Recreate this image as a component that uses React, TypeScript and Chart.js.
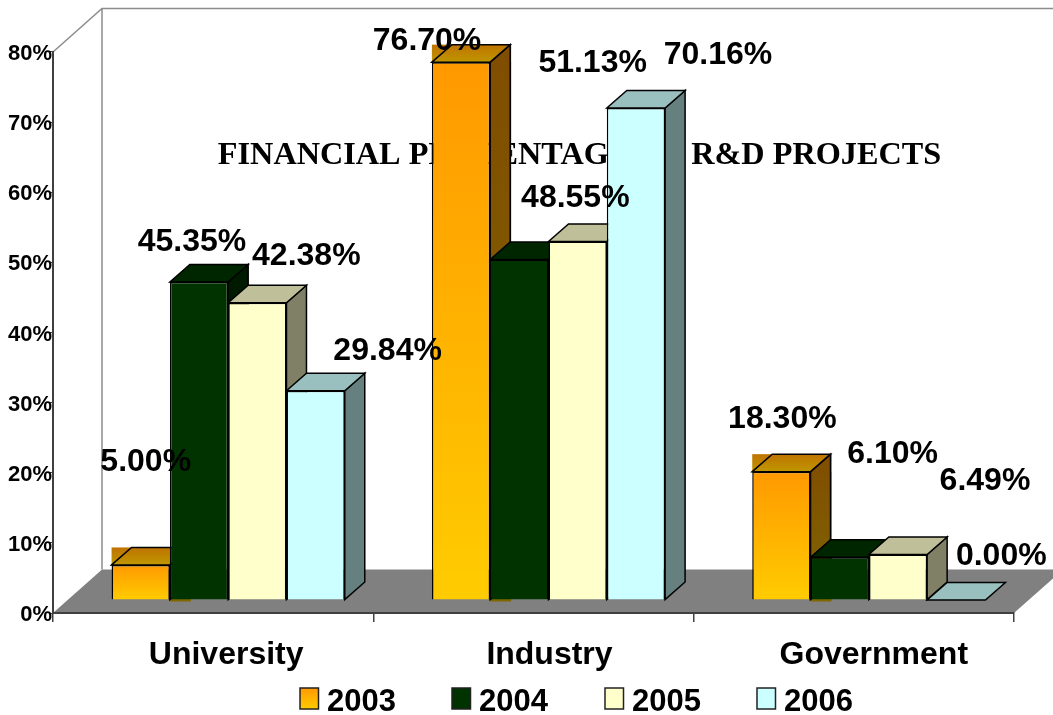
import React, { useEffect, useRef } from "react";
import { Chart, registerables } from "chart.js";

Chart.register(...registerables);

const categories = ["University", "Industry", "Government"];
const years = ["2003", "2004", "2005", "2006"];
const values2003 = [5.0, 76.7, 18.3];
const values2004 = [45.35, 48.55, 6.1];
const values2005 = [42.38, 51.13, 6.49];
const values2006 = [29.84, 70.16, 0.0];
const seriesValues = [values2003, values2004, values2005, values2006];
const titleText = "FINANCIAL PERCENTAGE OF R&D PROJECTS";

// [top colour, bottom colour] of each series' front face, as rgb triples
const seriesColors = [
  [[255, 153, 0], [255, 204, 0]],
  [[0, 51, 0], [0, 51, 0]],
  [[255, 255, 204], [255, 255, 204]],
  [[204, 255, 255], [204, 255, 255]],
];

// Layout of the imitation 3D: wall depth, bar plane shift, bar depth
const WALL_DX = 49, WALL_DY = -43.5;
const PLANE_DX = 15, PLANE_DY = -13;
const BAR_DX = 20, BAR_DY = -17.5;
const AXIS = "#404040";
const SANS = "'Liberation Sans', Arial, sans-serif";

// Hand-placed data label offsets from each bar's front-top centre
const labelOffsets = [
  [[5, -102.5], [-34, -21], [1, -52]],
  [[-7, -40], [56, -61], [53, -103.5]],
  [[49, -47], [15, -178], [87, -73]],
  [[72, -40], [82, -53], [45, -43.5]],
];
const tickLabelNudge = [-3, 0, 4];
const legendX = [300, 452, 605, 757];

const rgb = (c: number[], k = 1) => `rgb(${c.map((v) => Math.round(v * k)).join(",")})`;
const grad = (ctx: CanvasRenderingContext2D, y0: number, y1: number, s: number[][], k = 1) => {
  const g = ctx.createLinearGradient(0, y0, 0, y1);
  g.addColorStop(0, rgb(s[0], k));
  g.addColorStop(1, rgb(s[1], k));
  return g;
};
const poly = (ctx: CanvasRenderingContext2D, pts: number[][], fill: any) => {
  ctx.beginPath();
  pts.forEach((p, i) => (i ? ctx.lineTo(p[0], p[1]) : ctx.moveTo(p[0], p[1])));
  ctx.closePath();
  ctx.fillStyle = fill;
  ctx.fill();
  ctx.strokeStyle = "#000";
  ctx.lineWidth = 1.5;
  ctx.stroke();
};

const scene3d = {
  id: "scene3d",
  afterLayout(chart: any) {
    // the title sits off-centre, to the right of the plot's middle
    chart.titleBlock.left += 145;
  },
  beforeDraw(chart: any) {
    const { ctx, chartArea: a } = chart;
    ctx.save();
    ctx.fillStyle = "#808080";
    ctx.beginPath();
    ctx.moveTo(a.left, a.bottom);
    ctx.lineTo(a.left + WALL_DX, a.bottom + WALL_DY);
    ctx.lineTo(a.right + WALL_DX, a.bottom + WALL_DY);
    ctx.lineTo(a.right, a.bottom);
    ctx.closePath();
    ctx.fill();
    ctx.strokeStyle = "#8c8c8c";
    ctx.lineWidth = 1.5;
    ctx.beginPath();
    ctx.moveTo(a.left, a.top);
    ctx.lineTo(a.left + WALL_DX, a.top + WALL_DY);
    ctx.lineTo(a.right + WALL_DX, a.top + WALL_DY);
    ctx.moveTo(a.left + WALL_DX, a.top + WALL_DY);
    ctx.lineTo(a.left + WALL_DX, a.bottom + WALL_DY);
    ctx.stroke();
    ctx.restore();
    const items = chart.scales.x.getLabelItems();
    if (!chart.$nudged) {
      items.forEach((it: any, i: number) => (it.options.translation[0] += tickLabelNudge[i] || 0));
      chart.$nudged = true;
    }
  },
  beforeDatasetsDraw(chart: any) {
    const { ctx } = chart;
    ctx.save();
    seriesValues.forEach((_, si) => {
      const s = seriesColors[si];
      const isGradient = s[0][1] !== s[1][1];
      chart.getDatasetMeta(si).data.forEach((el: any) => {
        const { x, y, base, width } = el.getProps(["x", "y", "base", "width"]);
        const l = x - width / 2 + PLANE_DX;
        const r = x + width / 2 + PLANE_DX;
        const t = y + PLANE_DY;
        const b = base + PLANE_DY;
        const topFill = grad(ctx, t + BAR_DY, t + 1, s, 0.75);
        const sideFill = grad(ctx, t + BAR_DY, b, s, 0.5);
        if (isGradient) {
          // gradient faces keep their bounding-box fill in the source picture
          ctx.fillStyle = grad(ctx, t, b + 2, s, 0.5);
          ctx.fillRect(r, t, BAR_DX + 1, b + 2 - t);
          ctx.fillStyle = topFill;
          ctx.fillRect(l, t + BAR_DY, r + BAR_DX + 1 - l, 1 - BAR_DY);
        }
        if (b - t > 0.5) {
          poly(ctx, [[r, t], [r + BAR_DX, t + BAR_DY], [r + BAR_DX, b + BAR_DY], [r, b]], sideFill);
        }
        poly(ctx, [[l, t], [l + BAR_DX, t + BAR_DY], [r + BAR_DX, t + BAR_DY], [r, t]], topFill);
      });
    });
    ctx.restore();
    ctx.save();
    ctx.translate(PLANE_DX, PLANE_DY);
  },
  afterDatasetsDraw(chart: any) {
    const { ctx } = chart;
    ctx.restore();
    ctx.save();
    ctx.fillStyle = "#000";
    ctx.font = `bold 32px ${SANS}`;
    ctx.textAlign = "center";
    ctx.textBaseline = "middle";
    seriesValues.forEach((vals, si) => {
      chart.getDatasetMeta(si).data.forEach((el: any, ci: number) => {
        const { x, y } = el.getProps(["x", "y"]);
        const [ox, oy] = labelOffsets[si][ci];
        ctx.fillText(vals[ci].toFixed(2) + "%", x + PLANE_DX + ox, y + PLANE_DY + oy);
      });
    });
    // legend
    const { bottom } = chart.chartArea;
    ctx.textAlign = "left";
    ctx.font = `bold 31px ${SANS}`;
    years.forEach((yr, i) => {
      const top = bottom + 75;
      const s = seriesColors[i];
      ctx.fillStyle = grad(ctx, top, top + 21, s);
      ctx.fillRect(legendX[i], top, 18.5, 21);
      ctx.strokeStyle = "#222";
      ctx.lineWidth = 1.5;
      ctx.strokeRect(legendX[i], top, 18.5, 21);
      ctx.fillStyle = "#000";
      ctx.fillText(yr, legendX[i] + 27, top + 14);
    });
    ctx.restore();
  },
};

export default function App() {
  const ref = useRef<HTMLCanvasElement>(null);
  useEffect(() => {
    const chart = new Chart(ref.current as HTMLCanvasElement, {
      type: "bar",
      data: {
        labels: categories,
        datasets: years.map((label, si) => ({
          label,
          data: seriesValues[si],
          borderColor: "#000",
          borderWidth: 1.5,
          clip: false,
          backgroundColor: (c: any) => {
            const s = seriesColors[si];
            const ys = c.chart.scales.y;
            if (c.type !== "data" || !ys || !c.parsed) return rgb(s[0]);
            const y0 = ys.getPixelForValue(c.parsed.y);
            const y1 = ys.getPixelForValue(0);
            if (!Number.isFinite(y0) || !Number.isFinite(y1)) return rgb(s[0]);
            return grad(c.chart.ctx, y0, y1, s);
          },
        })),
      },
      options: {
        responsive: false,
        animation: false,
        layout: { padding: { top: 0, right: 39, bottom: 0, left: 0 } },
        datasets: { bar: { categoryPercentage: 0.728, barPercentage: 1 } },
        plugins: {
          legend: { display: false },
          tooltip: { enabled: false },
          title: {
            display: true,
            text: titleText,
            color: "#000",
            font: { family: "'Liberation Serif', 'Times New Roman', serif", size: 32.25, weight: "bold" },
            // reserves the 51px above the plot; the text hangs down over the back wall
            padding: { top: 136, bottom: -122.7 },
          },
        },
        scales: {
          x: {
            afterFit: (s: any) => { s.height = 102; },
            grid: { drawOnChartArea: false, drawTicks: true, tickLength: 9, color: AXIS, offset: true, lineWidth: 1.5 },
            border: { display: true, color: AXIS, width: 2 },
            ticks: {
              color: "#000",
              font: { family: SANS, size: 32, weight: "bold" },
              padding: 14,
              labelOffset: 16,
              maxRotation: 0,
              autoSkip: false,
            },
          },
          y: {
            min: 0,
            max: 80,
            afterFit: (s: any) => { s.width = 53; },
            grid: { drawOnChartArea: false, drawTicks: true, tickLength: 3, color: AXIS },
            border: { display: true, color: AXIS, width: 2 },
            ticks: {
              stepSize: 10,
              color: "#000",
              padding: -2,
              labelOffset: 2,
              font: { family: SANS, size: 22, weight: "bold" },
              callback: (v: any) => v + "%",
            },
          },
        },
      },
      plugins: [scene3d],
    } as any);
    return () => chart.destroy();
  }, []);
  return (
    <canvas
      ref={ref}
      width={1053}
      height={715}
      style={{ position: "absolute", left: 0, top: 0, display: "block" }}
    />
  );
}
